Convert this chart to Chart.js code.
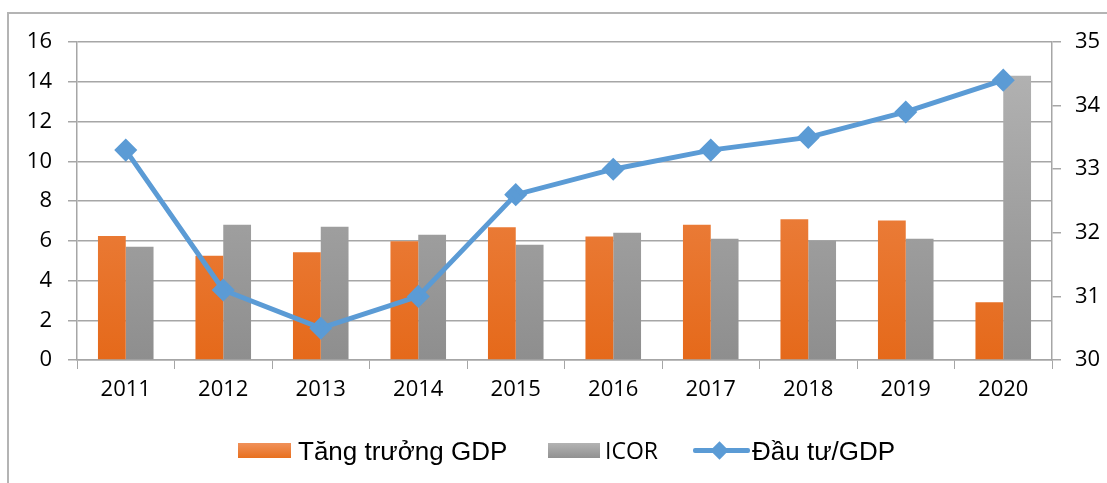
<!DOCTYPE html>
<html>
<head>
<meta charset="utf-8">
<script src="https://cdn.jsdelivr.net/npm/chart.js@4"></script>
<style>
  html, body { margin: 0; padding: 0; background: #fff; }
  #wrap { position: relative; width: 1107px; height: 483px; overflow: hidden; }
  #frame { position: absolute; left: 7px; top: 12px; width: 1200px; height: 600px;
           border-top: 2px solid #b4b4b4; border-left: 2px solid #b4b4b4; }
  canvas { position: absolute; left: 0; top: 0; }
  .lg { position: absolute; top: 438px; font-family: "Liberation Sans", Arial, sans-serif;
        font-size: 26px; color: #000; white-space: nowrap; line-height: 26px; }
  .box { position: absolute; top: 443px; height: 15px; }
</style>
</head>
<body>
<div id="wrap">
  <div id="frame"></div>
  <canvas id="chart" width="1107" height="483"></canvas>
  <div class="box" style="left:238px;width:53px;background:linear-gradient(#f0915a,#e8701f);"></div>
  <div class="lg" style="left:298px;">Tăng trưởng GDP</div>
  <div class="box" style="left:548px;width:52px;background:linear-gradient(#b3b3b3,#919191);"></div>
  <div class="lg" style="left:605px;top:439px;font-family:'Open Sans',sans-serif;font-size:23px;line-height:23px;">ICOR</div>
  <div style="position:absolute;left:693px;top:448px;width:57px;height:5px;background:#5b9bd5;border-radius:2px;"></div>
  <div style="position:absolute;left:713px;top:444px;width:13px;height:13px;background:#5b9bd5;transform:rotate(45deg);"></div>
  <div class="lg" style="left:752px;">Đầu tư/GDP</div>
</div>
<script>
// dữ liệu
var nam = ['2011', '2012', '2013', '2014', '2015', '2016', '2017', '2018', '2019', '2020'];
var tangTruongGDP = [6.24, 5.25, 5.42, 5.98, 6.68, 6.21, 6.81, 7.08, 7.02, 2.91];
var icor = [5.7, 6.8, 6.7, 6.3, 5.8, 6.4, 6.1, 6.0, 6.1, 14.3];
var dauTuGDP = [33.3, 31.1, 30.5, 31.0, 32.6, 33.0, 33.3, 33.5, 33.9, 34.4];
var ticksTrai = [0, 2, 4, 6, 8, 10, 12, 14, 16];
var ticksPhai = [30, 31, 32, 33, 34, 35];

var ctx = document.getElementById('chart').getContext('2d');

function gradient(c, top, bottom) {
  var area = c.chart.chartArea;
  if (!area) return top;
  var g = c.chart.ctx.createLinearGradient(0, area.top, 0, area.bottom);
  g.addColorStop(0, top);
  g.addColorStop(1, bottom);
  return g;
}

var fonte = { family: 'Open Sans', size: 22 };

window.grafico = new Chart(ctx, {
  type: 'bar',
  data: {
    labels: nam,
    datasets: [{
      label: 'Đầu tư/GDP',
      type: 'line',
      data: dauTuGDP,
      yAxisID: 'y2',
      borderColor: '#5b9bd5',
      backgroundColor: '#5b9bd5',
      borderWidth: 5,
      pointStyle: 'rectRot',
      pointRadius: 8,
      pointHoverRadius: 8,
      tension: 0,
      order: 0
    }, {
      label: 'Tăng trưởng GDP',
      data: tangTruongGDP,
      yAxisID: 'y',
      backgroundColor: function (c) { return gradient(c, '#f0915a', '#e5691a'); },
      barPercentage: 1,
      categoryPercentage: 0.57,
      order: 1
    }, {
      label: 'ICOR',
      data: icor,
      yAxisID: 'y',
      backgroundColor: function (c) { return gradient(c, '#b5b5b5', '#8e8e8e'); },
      barPercentage: 1,
      categoryPercentage: 0.57,
      order: 1
    }]
  },
  options: {
    responsive: false,
    animation: false,
    layout: { padding: { top: 42, left: 0, right: 0, bottom: 0 } },
    plugins: { legend: { display: false }, tooltip: { enabled: false } },
    scales: {
      x: {
        grid: { display: true, drawOnChartArea: false, drawTicks: true, tickLength: 9, color: '#a6a6a6', offset: true },
        border: { color: '#a6a6a6', width: 1.5 },
        ticks: { color: '#000', font: fonte, padding: 8 },
        afterFit: function (s) { s.height = 123; }
      },
      y: {
        position: 'left',
        min: 0, max: 16,
        afterBuildTicks: function (s) { s.ticks = ticksTrai.map(function (v) { return { value: v }; }); },
        grid: { color: '#a6a6a6', lineWidth: 1.5, tickLength: 9 },
        border: { color: '#a6a6a6', width: 1.5 },
        ticks: { color: '#000', font: fonte, padding: 16 },
        afterFit: function (s) { s.width = 77; }
      },
      y2: {
        position: 'right',
        min: 30, max: 35,
        afterBuildTicks: function (s) { s.ticks = ticksPhai.map(function (v) { return { value: v }; }); },
        grid: { drawOnChartArea: false, color: '#a6a6a6', lineWidth: 1.5, tickLength: 9 },
        border: { color: '#a6a6a6', width: 1.5 },
        ticks: { color: '#000', font: fonte, padding: 14 },
        afterFit: function (s) { s.width = 55; }
      }
    }
  }
});
</script>
</body>
</html>
